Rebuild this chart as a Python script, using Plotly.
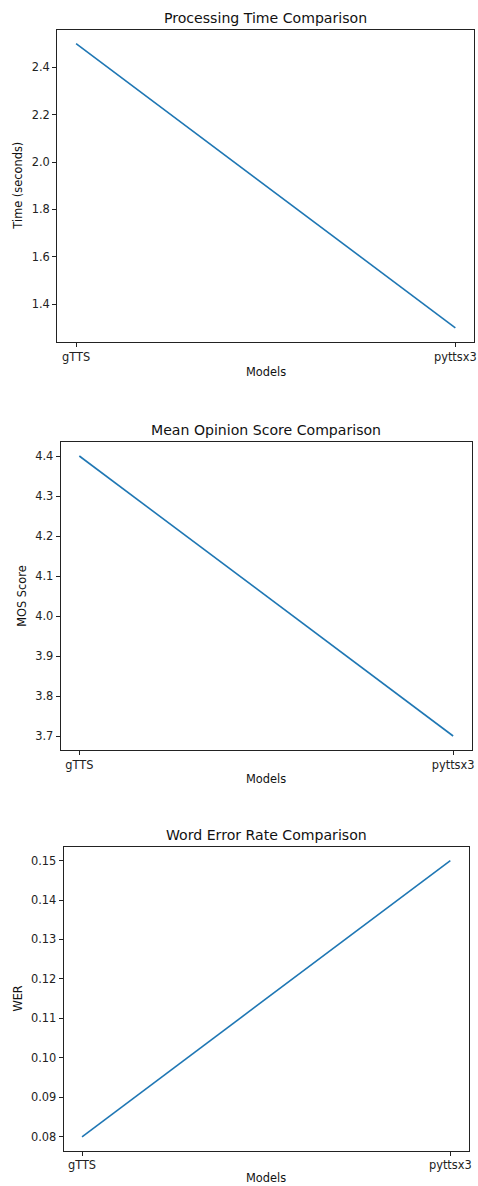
import plotly.graph_objects as go

models = ["gTTS", "pyttsx3"]
proc_time = [2.5, 1.3]
mos_score = [4.4, 3.7]
wer = [0.08, 0.15]

titles = ["Processing Time Comparison", "Mean Opinion Score Comparison", "Word Error Rate Comparison"]
ylabels = ["Time (seconds)", "MOS Score", "WER"]
series = [proc_time, mos_score, wer]
tick_vals = [
    [1.4, 1.6, 1.8, 2.0, 2.2, 2.4],
    [3.7, 3.8, 3.9, 4.0, 4.1, 4.2, 4.3, 4.4],
    [0.08, 0.09, 0.10, 0.11, 0.12, 0.13, 0.14, 0.15],
]
tick_fmt = [".1f", ".1f", ".2f"]

W, H = 478, 1186
# pixel boxes (left, right, top, bottom)
boxes = [(57.5, 477.3, 29.5, 342.0), (61.0, 474.8, 442.0, 750.0), (64.0, 471.7, 846.7, 1150.7)]
ylab_x = [18, 22, 18]
xlab_off = [30, 29, 27]

FONT = "DejaVu Sans"
COLOR = "#1f77b4"

fig = go.Figure()
annotations = []
for i in range(3):
    l, r, t, b = boxes[i]
    xa = "x" if i == 0 else f"x{i+1}"
    ya = "y" if i == 0 else f"y{i+1}"
    fig.add_trace(go.Scatter(x=[0, 1], y=series[i], mode="lines",
                             line=dict(color=COLOR, width=1.6),
                             xaxis=xa, yaxis=ya, showlegend=False, hoverinfo="skip"))
    vals = series[i]
    lo, hi = min(vals), max(vals)
    pad = (hi - lo) * 0.05
    axis_common = dict(showgrid=False, zeroline=False, showline=True, mirror=True,
                       linecolor="#222", linewidth=1, ticks="outside", ticklen=4,
                       tickwidth=1, tickcolor="#222",
                       tickfont=dict(family=FONT, size=11.4, color="#222"))
    fig.update_layout(**{
        ("xaxis" if i == 0 else f"xaxis{i+1}"): dict(
            domain=[l / W, r / W], anchor=ya, range=[-0.05, 1.05],
            tickvals=[0, 1], ticktext=models, **axis_common),
        ("yaxis" if i == 0 else f"yaxis{i+1}"): dict(
            domain=[1 - b / H, 1 - t / H], anchor=xa, range=[lo - pad, hi + pad],
            tickvals=tick_vals[i], tickformat=tick_fmt[i], **axis_common),
    })
    cx = (l + r) / 2
    annotations.append(dict(text=titles[i], x=cx / W, y=1 - (t - 12) / H, xref="paper", yref="paper",
                            showarrow=False, font=dict(family=FONT, size=14.1, color="#111"),
                            xanchor="center", yanchor="middle"))
    annotations.append(dict(text="Models", x=cx / W, y=1 - (b + xlab_off[i]) / H, xref="paper", yref="paper",
                            showarrow=False, font=dict(family=FONT, size=11.4, color="#111"),
                            xanchor="center", yanchor="middle"))
    annotations.append(dict(text=ylabels[i], x=ylab_x[i] / W, y=1 - ((t + b) / 2) / H,
                            xref="paper", yref="paper", textangle=-90,
                            showarrow=False, font=dict(family=FONT, size=11.4, color="#111"),
                            xanchor="center", yanchor="middle"))

fig.update_layout(width=W, height=H, margin=dict(l=0, r=0, t=0, b=0),
                  paper_bgcolor="white", plot_bgcolor="white",
                  annotations=annotations, font=dict(family=FONT))
fig.write_html("out.html", config={"displayModeBar": False},
               post_script="document.body.style.margin='0';document.body.style.overflow='hidden';")
